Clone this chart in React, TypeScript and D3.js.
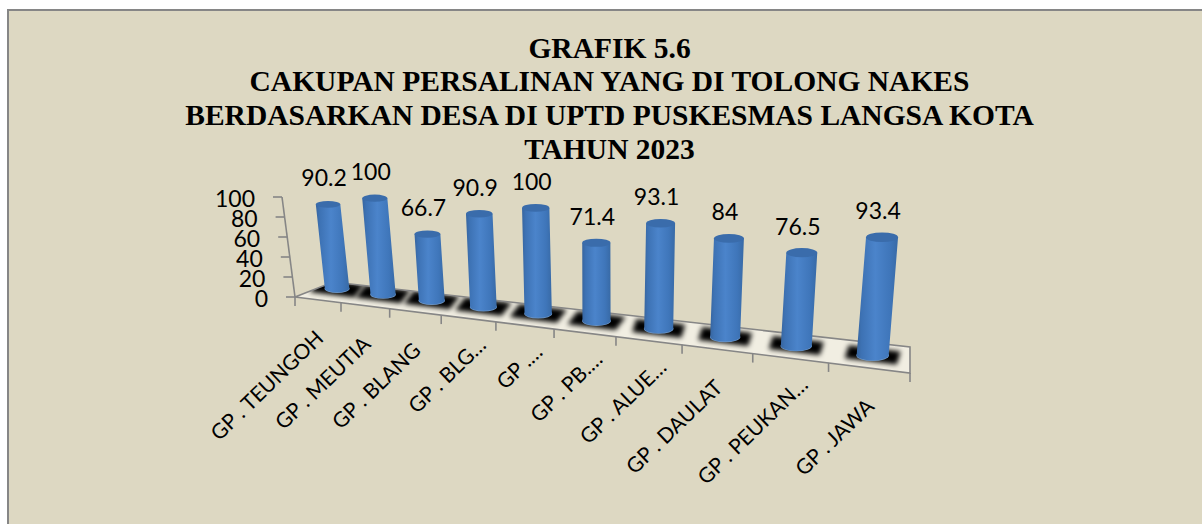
import React from "react";
import * as d3 from "d3";

const titleLines = [
  "GRAFIK 5.6",
  "CAKUPAN PERSALINAN YANG DI TOLONG NAKES",
  "BERDASARKAN DESA DI UPTD PUSKESMAS LANGSA KOTA",
  "TAHUN 2023",
];
const categories = [
  "GP . TEUNGOH", "GP . MEUTIA", "GP . BLANG", "GP . BLG…", "GP .…",
  "GP . PB.…", "GP . ALUE…", "GP . DAULAT", "GP . PEUKAN…", "GP . JAWA",
];
const values = [90.2, 100, 66.7, 90.9, 100, 71.4, 93.1, 84, 76.5, 93.4];
const valueLabels = ["90.2", "100", "66.7", "90.9", "100", "71.4", "93.1", "84", "76.5", "93.4"];
const yTicks = [0, 20, 40, 60, 80, 100];

const W = 1202, H = 524;
const BG = "#DDD8C2", GRAY = "#868686";
const LABEL_FONT = "Lato, 'Open Sans', sans-serif";

// perspective projection of the floor
const warp = 1.374;
const perspective = (t: number) => t / (t + warp * (1 - t));
const uScale = d3.scaleLinear().domain([0, categories.length]).range([0, 1]);
const frontX = d3.scaleLinear().domain([0, 1]).range([295, 910]);
const frontY = d3.scaleLinear().domain([0, 1]).range([297, 373]);
const depthX = d3.scaleLinear().domain([0, 1]).range([38, 0]);
const depthY = d3.scaleLinear().domain([0, 1]).range([-15, -26]);
const barOffX = d3.scaleLinear().domain([0, 1]).range([20, 3]);
const barOffY = d3.scaleLinear().domain([0, 1]).range([-11.5, -13]);
const floorPt = (u: number, d: number): [number, number] => {
  const s = perspective(uScale(u));
  return [frontX(s) + d * depthX(s), frontY(s) + d * depthY(s)];
};
const heightAt = d3.scaleLinear().domain([337, 872]).range([93, 126]);
const leanAt = d3.scaleLinear().domain([337, 872]).range([-10, 10]);
const widthAt = d3.scaleLinear().domain([337, 872]).range([24.5, 32]);
const rySideAt = d3.scaleLinear().domain([337, 872]).range([3.4, 4.8]);
const axisX = d3.scaleLinear().domain([0, 100]).range([295, 282]);
const axisY = d3.scaleLinear().domain([0, 100]).range([297, 197]);

const poly = (pts: [number, number][]) => {
  const p = d3.path();
  pts.forEach((q, i) => (i ? p.lineTo(q[0], q[1]) : p.moveTo(q[0], q[1])));
  p.closePath();
  return p.toString();
};

export default function App() {
  const n = categories.length;
  const floor = poly([floorPt(0, 0), floorPt(n, 0), floorPt(n, 1), floorPt(0, 1)]);
  const bars = values.map((v, i) => {
    const [fx, fy] = floorPt(i + 0.5, 0);
    const s = perspective(uScale(i + 0.5));
    const bx = fx + barOffX(s);
    const by = fy + barOffY(s);
    const tx = bx + (leanAt(bx) * v) / 100;
    const ty = by - (heightAt(bx) * v) / 100;
    return { v, i, bx, by, tx, ty, w: widthAt(bx), ry: rySideAt(bx) };
  });
  return (
    <svg width={W} height={H} style={{ position: "absolute", left: 0, top: 0 }}>
      <defs>
        <linearGradient id="cyl" x1="0" x2="1" y1="0" y2="0">
          <stop offset="0" stopColor="#37659f" />
          <stop offset="0.12" stopColor="#3d72b4" />
          <stop offset="0.45" stopColor="#4b84cb" />
          <stop offset="0.8" stopColor="#3f76ba" />
          <stop offset="1" stopColor="#386aa6" />
        </linearGradient>
        <filter id="soft" x="-40%" y="-100%" width="180%" height="300%">
          <feGaussianBlur stdDeviation="2.8" />
        </filter>
        <clipPath id="floorClip"><path d={floor} /></clipPath>
      </defs>
      <rect x={8} y={10} width={W} height={H} fill={BG} stroke={GRAY} strokeWidth={2} />

      {titleLines.map((t, i) => (
        <text key={t} x={609.5} y={57.7 + i * 33.7} textAnchor="middle"
          fontFamily="'Liberation Serif', serif" fontWeight="bold" fontSize={29.5} fill="#000">{t}</text>
      ))}

      {/* floor */}
      <path d={floor} fill="#f1eee2" />
      <g clipPath="url(#floorClip)">
        {bars.map((b) => {
          const hw = b.w / 2 + 10;
          const slope = 0.12;
          const skew = (b.bx < 600 ? 1 : 0.4) * 5;
          return (
            <path key={b.i} filter="url(#soft)" fill="#000"
              d={poly([
                [b.bx - hw + skew, b.by - hw * slope - 6.5],
                [b.bx + hw + skew, b.by + hw * slope - 6.5],
                [b.bx + hw - skew, b.by + hw * slope + 6.5],
                [b.bx - hw - skew, b.by - hw * slope + 6.5],
              ])} />
          );
        })}
      </g>
      <path d={floor} fill="none" stroke={GRAY} strokeWidth={1.6} />

      {/* category ticks */}
      {d3.range(n + 1).map((i) => {
        const [x, y] = floorPt(i, 0);
        return <line key={i} x1={x} x2={x} y1={y} y2={y + 9} stroke={GRAY} strokeWidth={1.6} />;
      })}

      {/* value axis */}
      <line x1={axisX(0)} y1={axisY(0)} x2={axisX(100)} y2={axisY(100)} stroke={GRAY} strokeWidth={1.6} />
      {yTicks.map((t) => (
        <g key={t}>
          <line x1={axisX(t)} y1={axisY(t)} x2={axisX(t) - 9} y2={axisY(t)} stroke={GRAY} strokeWidth={1.6} />
          <text x={axisX(t) - 27} y={axisY(t) + 10} textAnchor="end"
            fontFamily={LABEL_FONT} fontSize={23} fill="#000">{t}</text>
        </g>
      ))}

      {/* cylinders */}
      {bars.map((b) => {
        const hw = b.w / 2;
        const side = d3.path();
        side.moveTo(b.tx - hw, b.ty);
        side.lineTo(b.bx - hw, b.by);
        const body = `${side.toString()}A${hw},${b.ry + 0.6} 0 0 0 ${b.bx + hw},${b.by}L${b.tx + hw},${b.ty}Z`;
        return (
          <g key={b.i}>
            <ellipse cx={b.bx} cy={b.by + 0.5} rx={hw + 0.3} ry={b.ry + 0.8} fill="#6f97c5" />
            <path d={body} fill="url(#cyl)" />
            <ellipse cx={b.tx} cy={b.ty} rx={hw} ry={b.ry} fill="#3a6cab" />
            <text x={b.tx - 4} y={b.ty - 18} textAnchor="middle"
              fontFamily={LABEL_FONT} fontSize={23} fill="#000">{valueLabels[b.i]}</text>
          </g>
        );
      })}

      {/* category labels */}
      {categories.map((c, i) => {
        const [x, y] = floorPt(i + 0.5, 0);
        const extra = c.endsWith("…") ? 17 : 0;
        const ax = x + 7 + extra * 0.72;
        const ay = y + 40 - extra * 0.7;
        return (
          <text key={c} transform={`translate(${ax},${ay}) rotate(-44)`} textAnchor="end"
            fontFamily={LABEL_FONT} fontSize={21} fill="#000">{c}</text>
        );
      })}
    </svg>
  );
}
